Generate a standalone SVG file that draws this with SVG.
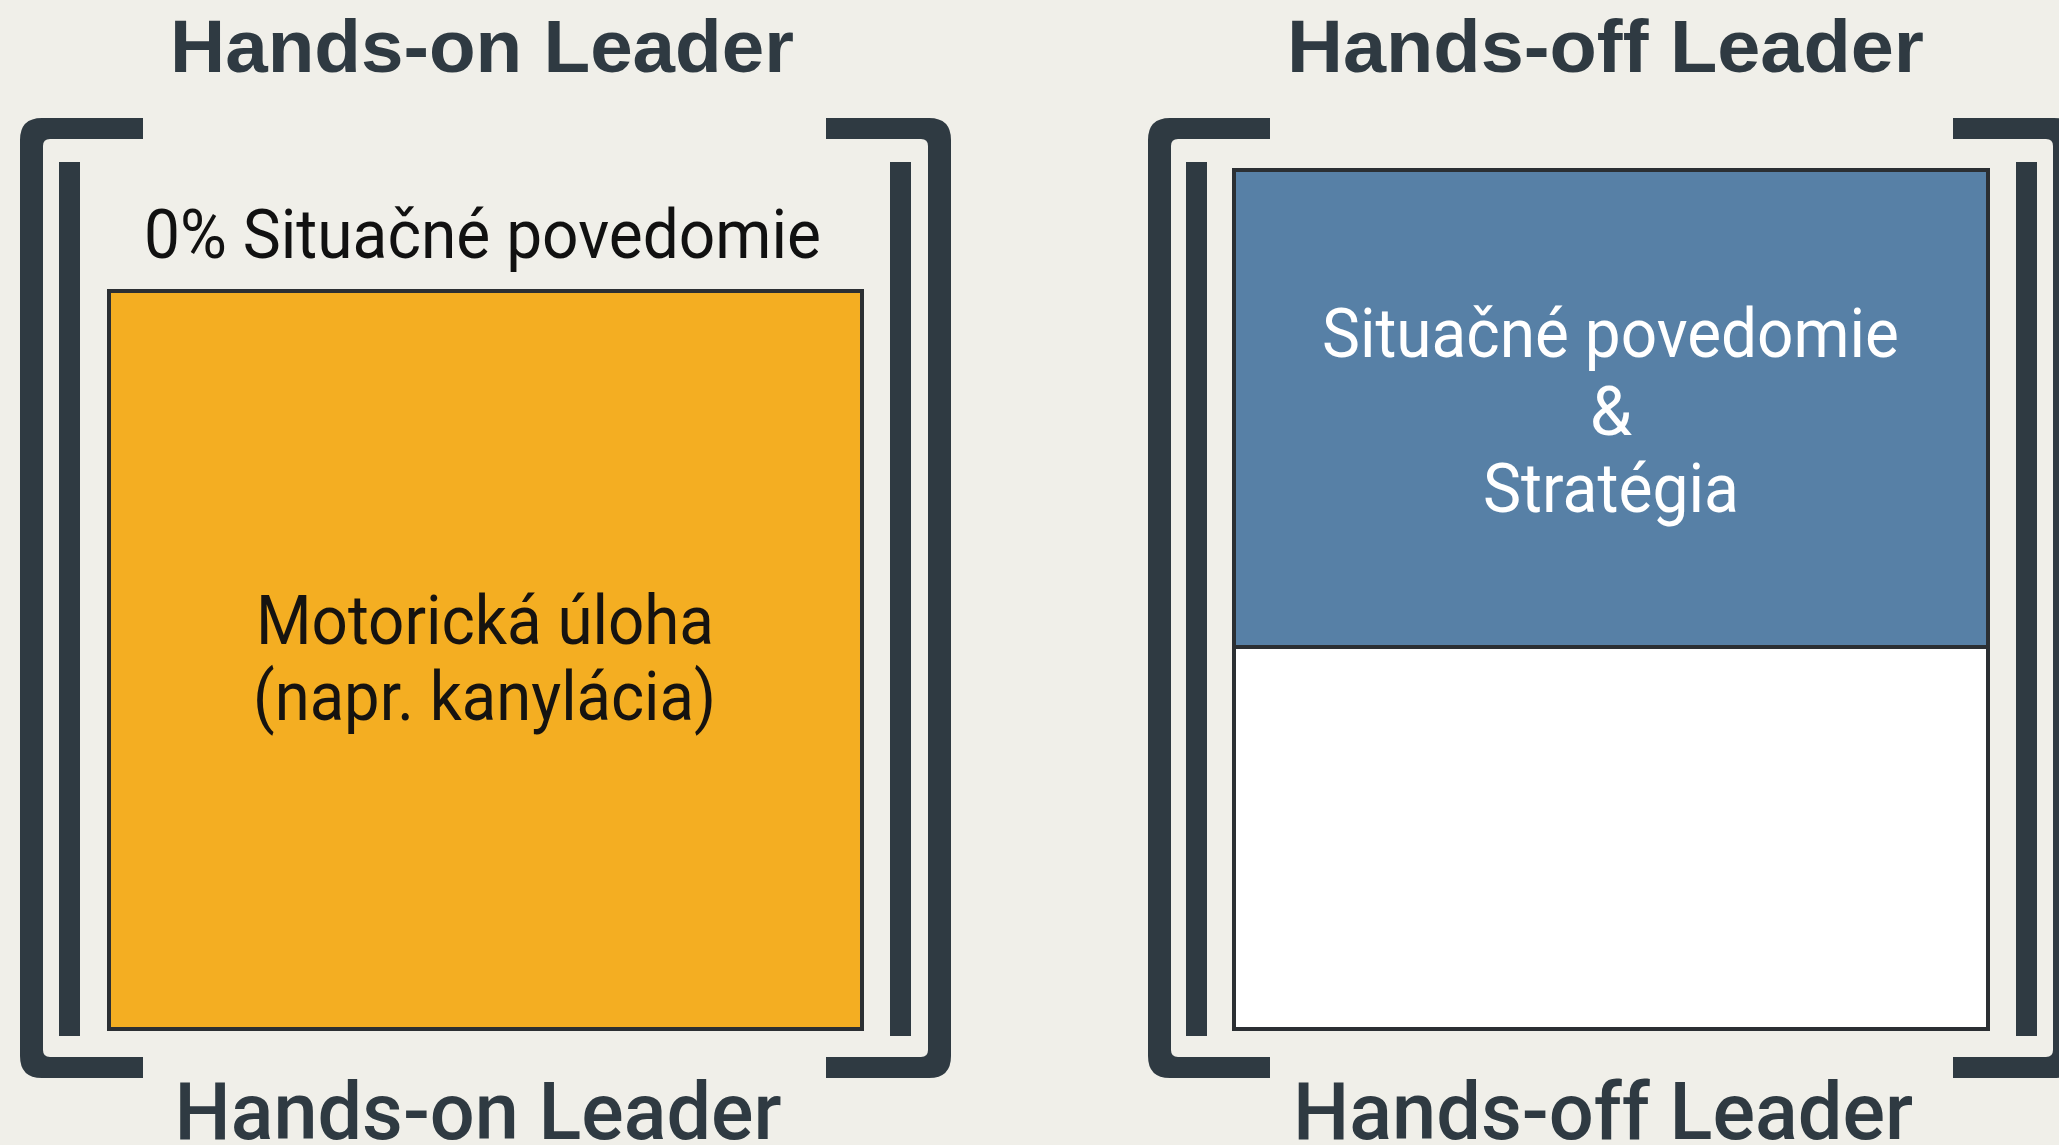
<svg xmlns="http://www.w3.org/2000/svg" width="2059" height="1145" viewBox="0 0 2059 1145">
<defs>
<style>
.bg{fill:#f0efe9}
.br{fill:#2f3a42}
.title{font-family:"Liberation Sans",Arial,sans-serif;font-weight:bold;font-size:74px;fill:#2f3a42;text-anchor:middle}
.sub{font-family:Roboto,"Liberation Sans",sans-serif;font-weight:500;font-size:80px;fill:#2f3a42;text-anchor:middle}
.lbl{font-family:Roboto,"Liberation Sans",sans-serif;font-size:68px;text-anchor:middle}
.box{stroke:#2b2f33;stroke-width:4}
</style>
</defs>
<rect class="bg" x="0" y="0" width="2059" height="1145"/>

<g id="hands-on">
  <text class="title" x="482" y="72" textLength="624" lengthAdjust="spacingAndGlyphs">Hands-on Leader</text>
  <path class="br" d="M143,118 H42 Q20,118 20,140 V1056 Q20,1078 42,1078 H143 V1057 H50 Q43,1057 43,1050 V146 Q43,139 50,139 H143 Z"/>
  <rect class="br" x="59" y="162" width="21" height="874"/>
  <path class="br" d="M826,118 H929 Q951,118 951,140 V1056 Q951,1078 929,1078 H826 V1057 H921 Q928,1057 928,1050 V146 Q928,139 921,139 H826 Z"/>
  <rect class="br" x="890" y="162" width="21" height="874"/>
  <text class="lbl" x="482.5" y="258" fill="#111" textLength="677" lengthAdjust="spacingAndGlyphs">0% Situačné povedomie</text>
  <rect class="box" x="109" y="291" width="753" height="738" fill="#f4ae22"/>
  <text class="lbl" x="485" y="644" fill="#161310" textLength="458" lengthAdjust="spacingAndGlyphs">Motorická úloha</text>
  <text class="lbl" x="484.5" y="720" fill="#161310" textLength="463" lengthAdjust="spacingAndGlyphs">(napr. kanylácia)</text>
  <text class="sub" x="478" y="1139" textLength="607" lengthAdjust="spacingAndGlyphs">Hands-on Leader</text>
</g>

<g id="hands-off">
  <text class="title" x="1605.5" y="72" textLength="637" lengthAdjust="spacingAndGlyphs">Hands-off Leader</text>
  <path class="br" d="M1270,118 H1170 Q1148,118 1148,140 V1056 Q1148,1078 1170,1078 H1270 V1057 H1178 Q1171,1057 1171,1050 V146 Q1171,139 1178,139 H1270 Z"/>
  <rect class="br" x="1186" y="162" width="21" height="874"/>
  <path class="br" d="M1953,118 H2054 Q2076,118 2076,140 V1056 Q2076,1078 2054,1078 H1953 V1057 H2046 Q2053,1057 2053,1050 V146 Q2053,139 2046,139 H1953 Z"/>
  <rect class="br" x="2016" y="162" width="21" height="874"/>
  <rect class="box" x="1234" y="170" width="754" height="859" fill="#ffffff"/>
  <rect x="1234" y="170" width="754" height="477" fill="#5780a6" stroke="#2b2f33" stroke-width="4"/>
  <text class="lbl" x="1610.5" y="357" fill="#ffffff" textLength="577" lengthAdjust="spacingAndGlyphs">Situačné povedomie</text>
  <text class="lbl" x="1611" y="435" fill="#ffffff">&amp;</text>
  <text class="lbl" x="1611" y="512" fill="#ffffff" textLength="256" lengthAdjust="spacingAndGlyphs">Stratégia</text>
  <text class="sub" x="1603" y="1139" textLength="620" lengthAdjust="spacingAndGlyphs">Hands-off Leader</text>
</g>

<g id="connectors"></g>
</svg>
